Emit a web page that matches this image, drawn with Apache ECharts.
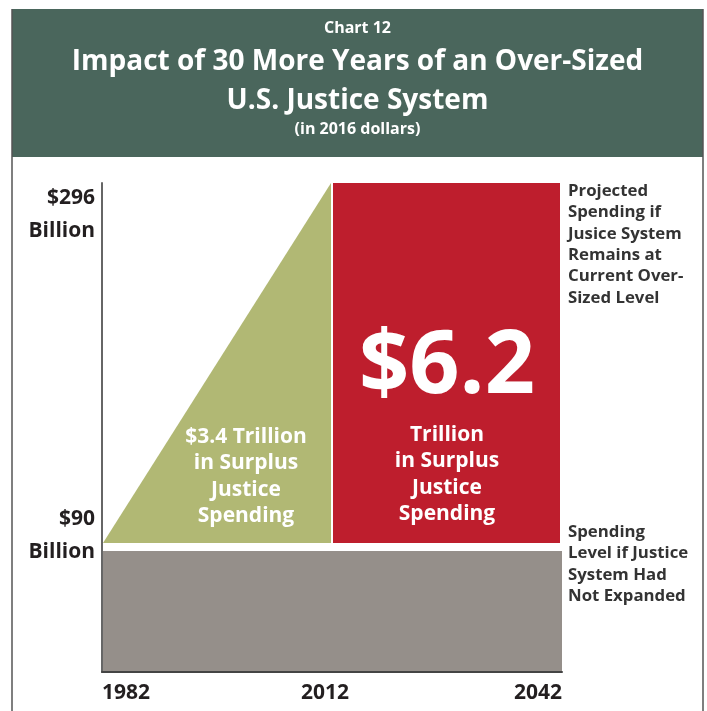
<!DOCTYPE html>
<html><head><meta charset="utf-8">
<script src="https://cdn.jsdelivr.net/npm/echarts@6/dist/echarts.min.js"></script>
<style>html,body{margin:0;padding:0;background:#fff}#c{width:707px;height:711px}</style>
</head><body><div id="c"></div>
<script>
// ---- data ----
const years = [1982, 2012, 2042];
const yearLabels = ['1982', '2012', '2042'];
const levels = [90, 296];              // $ billions: base level, current level
const levelLabels = ['$90\nBillion', '$296\nBillion'];
const axisFloor = [20];
const pastSurplus = ['$3.4 Trillion', 'in Surplus', 'Justice', 'Spending'];
const futureSurplusBig = ['$6.2'];
const futureSurplus = ['Trillion', 'in Surplus', 'Justice', 'Spending'];
const noteTop = ['Projected', 'Spending if', 'Jusice System', 'Remains at', 'Current Over-', 'Sized Level'];
const noteBottom = ['Spending', 'Level if Justice', 'System Had', 'Not Expanded'];
const titleLines = ['Chart 12', 'Impact of 30 More Years of an Over-Sized', 'U.S. Justice System', '(in 2016 dollars)'];

const FONT = '"Open Sans", "Noto Sans", sans-serif';
const chart = echarts.init(document.getElementById('c'), null, {renderer: 'canvas'});

const base = levels[0], peak = levels[1];
const y0 = years[0], y1 = years[1], y2 = years[2];

const option = {
  animation: false,
  backgroundColor: '#fff',
  grid: {left: 102, top: 183, right: 145, bottom: 39, containLabel: false},
  xAxis: {type: 'value', min: y0, max: y2,
    axisLine: {show: true, lineStyle: {color: '#444', width: 2}},
    axisTick: {show: false}, axisLabel: {show: false}, splitLine: {show: false}},
  yAxis: {type: 'value', min: axisFloor[0], max: peak,
    axisLine: {show: true, lineStyle: {color: '#666', width: 2}},
    axisTick: {show: false}, axisLabel: {show: false}, splitLine: {show: false}},
  series: [
    {type: 'custom', data: [[y0, y2, axisFloor[0], base]], z: 1,
      renderItem: function (params, api) {
        const a = api.coord([api.value(0), api.value(3)]);
        const b = api.coord([api.value(1), api.value(2)]);
        return {type: 'rect', shape: {x: a[0] + 1, y: a[1] + 3, width: b[0] - a[0] - 1, height: b[1] - a[1] - 4},
          style: {fill: '#958f8a'}};
      }},
    {type: 'custom', data: [[y0, y1, base, peak]], z: 2,
      renderItem: function (params, api) {
        const p0 = api.coord([api.value(0), api.value(2)]);
        const p1 = api.coord([api.value(1), api.value(3)]);
        const p2 = api.coord([api.value(1), api.value(2)]);
        const children = [{type: 'polygon', shape: {points: [[p0[0] + 1, p0[1] - 5], [p1[0] - 1, p1[1]], [p2[0] - 1, p2[1] - 5]]},
          style: {fill: '#b1b874'}}];
        return {type: 'group', children: children};
      }},
    {type: 'custom', data: [[y1, y2, base, peak]], z: 2,
      renderItem: function (params, api) {
        const a = api.coord([api.value(0), api.value(3)]);
        const b = api.coord([api.value(1), api.value(2)]);
        return {type: 'rect', shape: {x: a[0] + 1, y: a[1], width: b[0] - a[0] - 3, height: b[1] - a[1] - 5},
          style: {fill: '#be1e2d'}};
      }}
  ]
};
chart.setOption(option);

function px(x, y) { return chart.convertToPixel({gridIndex: 0}, [x, y]); }
const g = [];
// frame
g.push({type: 'rect', shape: {x: 12, y: 9, width: 691, height: 148}, style: {fill: '#4a665c'}, z: 0});
g.push({type: 'line', shape: {x1: 12, y1: 9, x2: 12, y2: 711}, style: {stroke: '#555', lineWidth: 1.5}, z: 0});
g.push({type: 'line', shape: {x1: 703, y1: 9, x2: 703, y2: 711}, style: {stroke: '#555', lineWidth: 1.5}, z: 0});
// title
const tY = [28, 62, 101, 129], tS = [16, 28, 28, 16];
titleLines.forEach(function (t, i) {
  g.push({type: 'text', x: 357.5, y: tY[i], style: {text: t, fill: '#fff', font: 'bold ' + tS[i] + 'px ' + FONT, align: 'center', verticalAlign: 'middle'}, z: 5});
});
// y labels
const pPeak = px(y0, peak), pBase = px(y0, base);
const ylY = [pBase[1] - 12, pPeak[1] + 32];
levelLabels.forEach(function (t, i) {
  g.push({type: 'text', x: 95, y: ylY[i], style: {text: t, fill: '#231f20', font: 'bold 21px ' + FONT, align: 'right', verticalAlign: 'middle', lineHeight: 33}, z: 5});
});
// x labels
const xAl = ['left', 'center', 'right'];
years.forEach(function (yr, i) {
  const p = px(yr, axisFloor[0]);
  g.push({type: 'text', x: p[0] + (i === 1 ? -7 : 0), y: p[1] + 21, style: {text: yearLabels[i], fill: '#231f20', font: 'bold 21px ' + FONT, align: xAl[i], verticalAlign: 'middle'}, z: 5});
});
// inside labels
const greenX = (px(y0, base)[0] + px(y1, base)[0]) / 2 + 29;
pastSurplus.forEach(function (t, i) {
  g.push({type: 'text', x: greenX, y: 437 + i * 26.3, style: {text: t, fill: '#fff', font: 'bold 21px ' + FONT, align: 'center', verticalAlign: 'middle'}, z: 5});
});
const redX = (px(y1, base)[0] + px(y2, base)[0]) / 2;
g.push({type: 'text', x: redX, y: 368, style: {text: futureSurplusBig[0], fill: '#fff', font: 'bold 88px ' + FONT, align: 'center', verticalAlign: 'middle'}, z: 5});
futureSurplus.forEach(function (t, i) {
  g.push({type: 'text', x: redX, y: 435 + i * 26.4, style: {text: t, fill: '#fff', font: 'bold 21px ' + FONT, align: 'center', verticalAlign: 'middle'}, z: 5});
});
// notes
noteTop.forEach(function (t, i) {
  g.push({type: 'text', x: 568, y: 191 + i * 21.4, style: {text: t, fill: '#333', font: 'bold 16.8px ' + FONT, align: 'left', verticalAlign: 'middle'}, z: 5});
});
noteBottom.forEach(function (t, i) {
  g.push({type: 'text', x: 568, y: 532 + i * 21.4, style: {text: t, fill: '#333', font: 'bold 16.8px ' + FONT, align: 'left', verticalAlign: 'middle'}, z: 5});
});
chart.setOption({graphic: g});
</script></body></html>
